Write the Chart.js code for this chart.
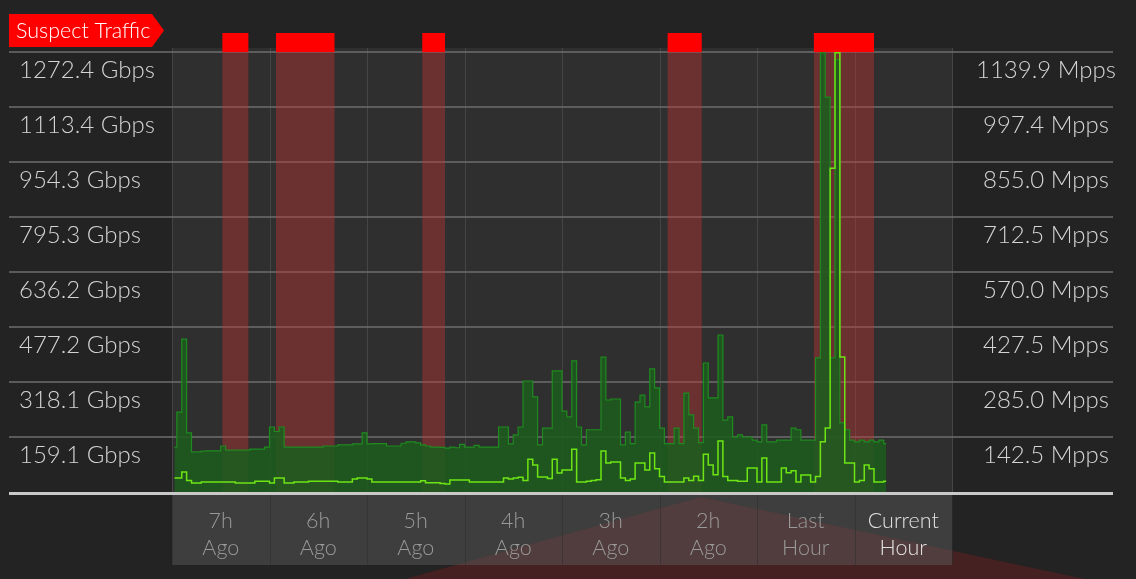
<!DOCTYPE html>
<html>
<head>
<meta charset="utf-8">
<script src="https://cdn.jsdelivr.net/npm/chart.js@4.4.1/dist/chart.umd.min.js"></script>
<style>
html, body { margin: 0; padding: 0; background: #232323; overflow: hidden; }
canvas { display: block; }
</style>
</head>
<body>
<canvas id="traffic" width="1136" height="579"></canvas>
<script>
// one sample every 3 minutes, starting 7h ago
const BIN_MIN = 3;

const gbps = [
  130, 231, 442, 171, 116, 116, 118, 119, 119, 119,
  133, 121, 121, 121, 121, 121, 124, 124, 124, 130,
  188, 175, 188, 130, 130, 130, 130, 130, 130, 130,
  130, 133, 133, 133, 136, 136, 136, 139, 139, 171,
  139, 140, 140, 140, 133, 133, 133, 141, 145, 145,
  142, 136, 133, 130, 130, 129, 127, 130, 128, 138,
  130, 130, 135, 130, 130, 130, 130, 188, 188, 139,
  165, 188, 321, 321, 275, 136, 185, 185, 350, 350,
  234, 217, 379, 188, 136, 180, 180, 180, 390, 266,
  269, 269, 136, 173, 140, 260, 280, 246, 356, 301,
  185, 140, 140, 185, 140, 286, 223, 185, 143, 373,
  272, 272, 454, 208, 217, 159, 165, 159, 159, 150,
  145, 194, 145, 145, 150, 150, 150, 185, 180, 150,
  150, 150, 388, 1270, 1142, 388, 1250, 200, 180, 150,
  145, 150, 145, 150, 145, 150, 140
];

const mpps = [
  36, 36, 52, 30, 23, 23, 26, 26, 26, 26,
  26, 26, 26, 23, 23, 23, 23, 28, 28, 28,
  23, 36, 36, 23, 23, 26, 26, 26, 28, 28,
  28, 28, 28, 28, 26, 26, 26, 34, 36, 36,
  34, 26, 26, 26, 26, 26, 26, 26, 26, 26,
  26, 29, 24, 24, 24, 22, 21, 31, 31, 31,
  31, 26, 26, 26, 26, 26, 26, 26, 36, 34,
  36, 38, 30, 85, 70, 39, 39, 35, 85, 49,
  57, 57, 111, 26, 26, 28, 30, 32, 106, 75,
  78, 78, 36, 30, 34, 75, 75, 57, 101, 60,
  40, 26, 26, 26, 26, 36, 30, 41, 30, 98,
  70, 45, 132, 40, 30, 30, 28, 28, 62, 62,
  26, 88, 26, 26, 26, 62, 50, 55, 26, 44,
  44, 26, 40, 130, 166, 839, 1138, 350, 75, 75,
  26, 30, 70, 60, 26, 26, 28
];

// suspect traffic windows, minutes since 7h ago
const suspectStart = [31, 64, 154, 305, 395];
const suspectEnd   = [47, 100, 168, 326, 432];

const gbpsTicks = ['159.1', '318.1', '477.2', '636.2', '795.3', '954.3', '1113.4', '1272.4'];
const mppsTicks = ['142.5', '285.0', '427.5', '570.0', '712.5', '855.0', '997.4', '1139.9'];
const hourLabels = [['7h', 'Ago'], ['6h', 'Ago'], ['5h', 'Ago'], ['4h', 'Ago'],
                    ['3h', 'Ago'], ['2h', 'Ago'], ['Last', 'Hour'], ['Current', 'Hour']];

const toPoints = arr => arr.map((v, i) => ({ x: BIN_MIN / 2 + i * BIN_MIN, y: v }));

const backdrop = {
  id: 'backdrop',
  beforeDraw(chart) {
    const { ctx, chartArea: a, scales } = chart;
    const W = chart.width, H = chart.height;
    ctx.save();
    ctx.fillStyle = '#232323';
    ctx.fillRect(0, 0, W, H);
    // faint red wedge behind the hour labels
    ctx.fillStyle = 'rgba(110,32,32,0.45)';
    ctx.beginPath();
    ctx.moveTo(701, 497); ctx.lineTo(W, 590); ctx.lineTo(W, H); ctx.lineTo(405, H);
    ctx.closePath(); ctx.fill();
    // plot panel
    ctx.fillStyle = '#2f2f2f';
    ctx.fillRect(a.left, a.top - 4, a.width, a.bottom - a.top + 4);
    // label panel
    ctx.fillStyle = 'rgba(95,95,95,0.45)';
    ctx.fillRect(a.left, a.bottom + 3, a.width, 70);
    // hour columns
    for (let m = 0; m <= 480; m += 60) {
      const x = Math.round(scales.x.getPixelForValue(m)) + 0.5;
      ctx.strokeStyle = '#454545'; ctx.lineWidth = 1;
      ctx.beginPath(); ctx.moveTo(x, a.top - 4); ctx.lineTo(x, a.bottom); ctx.stroke();
      ctx.strokeStyle = 'rgba(45,45,45,0.55)';
      ctx.beginPath(); ctx.moveTo(x, a.bottom + 3); ctx.lineTo(x, a.bottom + 73); ctx.stroke();
    }
    // value lines run across both label columns
    ctx.strokeStyle = '#6e6e6e'; ctx.lineWidth = 1.5;
    scales.y.ticks.forEach(t => {
      if (t.value <= 0) return;
      const y = Math.round(scales.y.getPixelForValue(t.value));
      ctx.beginPath(); ctx.moveTo(9, y); ctx.lineTo(1113, y); ctx.stroke();
    });
    ctx.restore();
  },
  beforeDatasetsDraw(chart) {
    const { ctx, chartArea: a, scales } = chart;
    ctx.save();
    suspectStart.forEach((s, i) => {
      const x0 = scales.x.getPixelForValue(s);
      const x1 = scales.x.getPixelForValue(suspectEnd[i]);
      ctx.fillStyle = 'rgba(190,50,50,0.42)';
      ctx.fillRect(x0, a.top, x1 - x0, a.bottom - a.top);
      ctx.fillStyle = '#ff0000';
      ctx.fillRect(x0, a.top - 19, x1 - x0, 19);
    });
    ctx.restore();
  },
  afterDatasetsDraw(chart) {
    const { ctx, chartArea: a } = chart;
    ctx.save();
    ctx.strokeStyle = '#c9c9c9'; ctx.lineWidth = 3;
    ctx.beginPath(); ctx.moveTo(9, a.bottom + 1.5); ctx.lineTo(1113, a.bottom + 1.5); ctx.stroke();
    // "Suspect Traffic" tag
    ctx.fillStyle = '#ff0000';
    ctx.beginPath();
    ctx.moveTo(9, 14); ctx.lineTo(152, 14); ctx.lineTo(164, 30.5); ctx.lineTo(152, 47); ctx.lineTo(9, 47);
    ctx.closePath(); ctx.fill();
    ctx.fillStyle = '#ffffff';
    ctx.font = '300 21.5px Lato';
    ctx.textBaseline = 'middle';
    ctx.fillText('Suspect Traffic', 16, 31);
    ctx.restore();
  }
};

Chart.defaults.font.family = 'Lato';

const ctx = document.getElementById('traffic').getContext('2d');
window.trafficChart = new Chart(ctx, {
  type: 'line',
  data: {
    datasets: [{
      label: 'Mpps',
      data: toPoints(mpps),
      yAxisID: 'y2',
      stepped: 'middle',
      borderColor: '#6ee414',
      borderWidth: 1.5,
      pointRadius: 0,
      fill: false,
      order: 1
    }, {
      label: 'Gbps',
      data: toPoints(gbps),
      yAxisID: 'y',
      stepped: 'middle',
      borderColor: '#1f8a1f',
      backgroundColor: 'rgba(30,92,30,0.88)',
      borderWidth: 1.2,
      pointRadius: 0,
      fill: 'origin',
      order: 2
    }]
  },
  options: {
    responsive: false,
    animation: false,
    events: [],
    layout: { padding: { left: 19, right: 0, top: 52, bottom: 0 } },
    plugins: { legend: { display: false }, tooltip: { enabled: false } },
    scales: {
      x: {
        type: 'linear', min: 0, max: 480, display: false
      },
      xl: {
        type: 'category',
        labels: hourLabels,
        offset: true,
        position: 'bottom',
        grid: { display: false, drawTicks: false },
        border: { display: false },
        ticks: {
          autoSkip: false, maxRotation: 0, padding: 15,
          color: c => (c.index === 7 ? '#e2e2e2' : '#9a9a9a'),
          font: { size: 21.5, weight: 300, lineHeight: 1.28 }
        },
        afterFit: s => { s.height = 87; }
      },
      y: {
        position: 'left', min: 0, max: 1272.4,
        grid: { display: false, drawTicks: false },
        border: { display: false },
        ticks: {
          count: 9, labelOffset: 18, crossAlign: 'far',
          color: '#d4d4d4', font: { size: 24, weight: 300 },
          callback: (v, i) => (i === 0 ? '' : gbpsTicks[i - 1] + ' Gbps')
        },
        afterFit: s => { s.width = 153; }
      },
      y2: {
        position: 'right', min: 0, max: 1139.9,
        grid: { display: false, drawTicks: true, tickLength: 21 },
        border: { display: false },
        ticks: {
          count: 9, labelOffset: 18, crossAlign: 'center',
          color: '#d4d4d4', font: { size: 24, weight: 300 },
          callback: (v, i) => (i === 0 ? '' : mppsTicks[i - 1] + ' Mpps')
        },
        afterFit: s => { s.width = 184; }
      }
    }
  },
  plugins: [backdrop]
});
</script>
</body>
</html>
